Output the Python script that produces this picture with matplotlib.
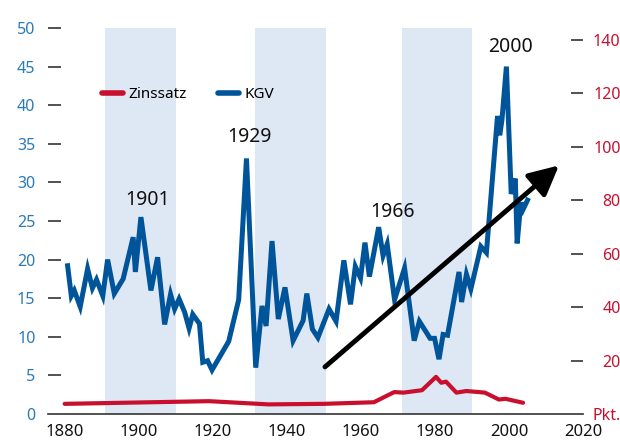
import matplotlib
matplotlib.use("Agg")
import matplotlib.pyplot as plt

# KGV (Kurs-Gewinn-Verhaeltnis), linke Achse
kgv_jahre = [1880.8, 1881.8, 1882.6, 1884.2, 1886.2, 1887.5, 1888.6, 1890.3, 1891.6, 1893.4,
             1895.8, 1898.5, 1899.1, 1900.6, 1903.3, 1905.1, 1907.0, 1908.6, 1909.7, 1910.9,
             1912.4, 1913.6, 1914.6, 1916.4, 1917.3, 1918.6, 1919.8, 1924.3, 1927.0, 1929.1,
             1931.6, 1933.3, 1934.4, 1936.0, 1937.7, 1939.5, 1941.7, 1944.4, 1945.4, 1946.9,
             1948.4, 1951.4, 1953.3, 1955.4, 1957.2, 1958.5, 1959.9, 1961.1, 1962.3, 1964.8,
             1966.0, 1967.1, 1969.1, 1971.8, 1974.4, 1975.8, 1978.7, 1979.9, 1981.1, 1982.2,
             1983.4, 1986.5, 1987.2, 1988.5, 1989.7, 1992.4, 1993.9, 1996.9, 1997.5, 1998.1,
             1999.3, 2000.6, 2001.7, 2002.2, 2003.2, 2003.8, 2005.0]
kgv_werte = [19.2, 15.3, 16.0, 13.9, 18.8, 16.3, 17.4, 15.3, 20.0, 15.6,
             17.5, 22.9, 18.4, 25.5, 16.0, 20.3, 11.6, 15.5, 13.6, 14.9,
             13.2, 11.1, 12.9, 11.7, 6.7, 6.9, 5.7, 9.4, 14.8, 33.1,
             6.0, 14.0, 11.4, 22.4, 12.3, 16.4, 9.5, 12.1, 15.6, 11.0,
             9.9, 13.6, 12.0, 19.9, 14.2, 19.1, 17.6, 22.2, 17.8, 24.2,
             20.5, 22.0, 14.8, 18.9, 9.5, 12.0, 9.8, 9.8, 7.1, 10.3,
             10.2, 18.4, 14.5, 18.1, 16.2, 21.7, 20.9, 38.6, 36.1, 38.1,
             45.0, 28.5, 30.5, 22.1, 27.4, 26.5, 27.7]

# Zinssatz, rechte Achse
zins_jahre = [1880, 1919, 1935, 1950, 1963.5, 1969, 1971.5, 1976.5, 1980.3, 1981.7,
              1983, 1985.8, 1988.5, 1993.5, 1997.3, 1999, 2003.8]
zins_werte = [3.8, 4.8, 3.6, 3.8, 4.4, 8.2, 8.0, 8.9, 13.9, 11.7,
              12.1, 8.0, 8.6, 8.0, 5.4, 5.7, 4.2]

baender = [(1891, 1910), (1931.5, 1950.5), (1971, 1990)]
marken = [("1901", 1902.4, 27.7), ("1929", 1929.9, 35.9),
          ("1966", 1968.6, 26.2), ("2000", 2000.4, 47.5)]

links_ticks = [0, 5, 10, 15, 20, 25, 30, 35, 40, 45, 50]
rechts_ticks = [0, 20, 40, 60, 80, 100, 120, 140]
rechts_labels = ["Pkt.", "20", "40", "60", "80", "100", "120", "140"]
x_ticks = [1880, 1900, 1920, 1940, 1960, 1980, 2000, 2020]

blau = "#00559a"
blau_txt = "#2a7ab8"
rot = "#c8102e"
band = "#dee8f5"

plt.rcParams['font.family'] = ['Noto Sans', 'DejaVu Sans']

fig = plt.figure(figsize=(6.2, 4.4), dpi=100)
ax = fig.add_axes([0.0774, 0.0591, 0.863, 0.8773])
ax2 = ax.twinx()

for a, b in baender:
    ax.axvspan(a, b, color=band, lw=0, zorder=0)

ax.plot(kgv_jahre, kgv_werte, color=blau, lw=3.6, solid_joinstyle='miter', zorder=3)
ax2.plot(zins_jahre, zins_werte, color=rot, lw=3.0, solid_capstyle='round', zorder=3)

for txt, x, y in marken:
    ax.text(x, y, txt, fontsize=14, ha='center', va='center', color='#111111', zorder=5)

ax2.annotate('', xy=(2013.5, 32.2 * 144.5 / 50), xytext=(1950.3, 6.1 * 144.5 / 50),
             arrowprops=dict(arrowstyle='-|>,head_length=0.9,head_width=0.45',
                             lw=3.5, color='black', mutation_scale=20,
                             shrinkA=0, shrinkB=0), zorder=6)

ax.set_xlim(1875.5, 2020)
ax.set_ylim(0, 50)
ax2.set_ylim(0, 144.5)

ax.set_xticks(x_ticks)
ax.set_yticks(links_ticks)
ax2.set_yticks(rechts_ticks)
ax2.set_yticklabels(rechts_labels)

for s in ['top', 'left', 'right']:
    ax.spines[s].set_visible(False)
    ax2.spines[s].set_visible(False)
ax2.spines['bottom'].set_visible(False)
ax.spines['bottom'].set_color('#333333')
ax.spines['bottom'].set_linewidth(1.2)

ax.tick_params(axis='x', length=0, labelsize=12, pad=7, labelcolor='#111111')
ax.tick_params(axis='y', direction='in', length=9, width=1.1, color='#222222',
               labelsize=11.5, labelcolor=blau_txt, pad=9)
ax2.tick_params(axis='y', direction='in', length=9, width=1.1, color='#222222',
                labelsize=11.5, labelcolor=rot, pad=27)
for lab in ax2.get_yticklabels():
    lab.set_horizontalalignment('right')
ax.yaxis.get_major_ticks()[0].tick1line.set_visible(False)
ax2.yaxis.get_major_ticks()[0].tick2line.set_visible(False)

h1 = ax2.get_lines()[0]
h2 = ax.get_lines()[0]
leg = ax2.legend([h1, h2], ["Zinssatz", "KGV"], loc='upper left',
                 bbox_to_anchor=(0.095, 0.855), ncol=2, frameon=False,
                 fontsize=11, handlelength=1.4, columnspacing=2.0,
                 handletextpad=0.35, borderaxespad=0, borderpad=0.2)
for line in leg.get_lines():
    line.set_linewidth(4)
    line.set_solid_capstyle('round')

fig.savefig("out.png", dpi=100)
